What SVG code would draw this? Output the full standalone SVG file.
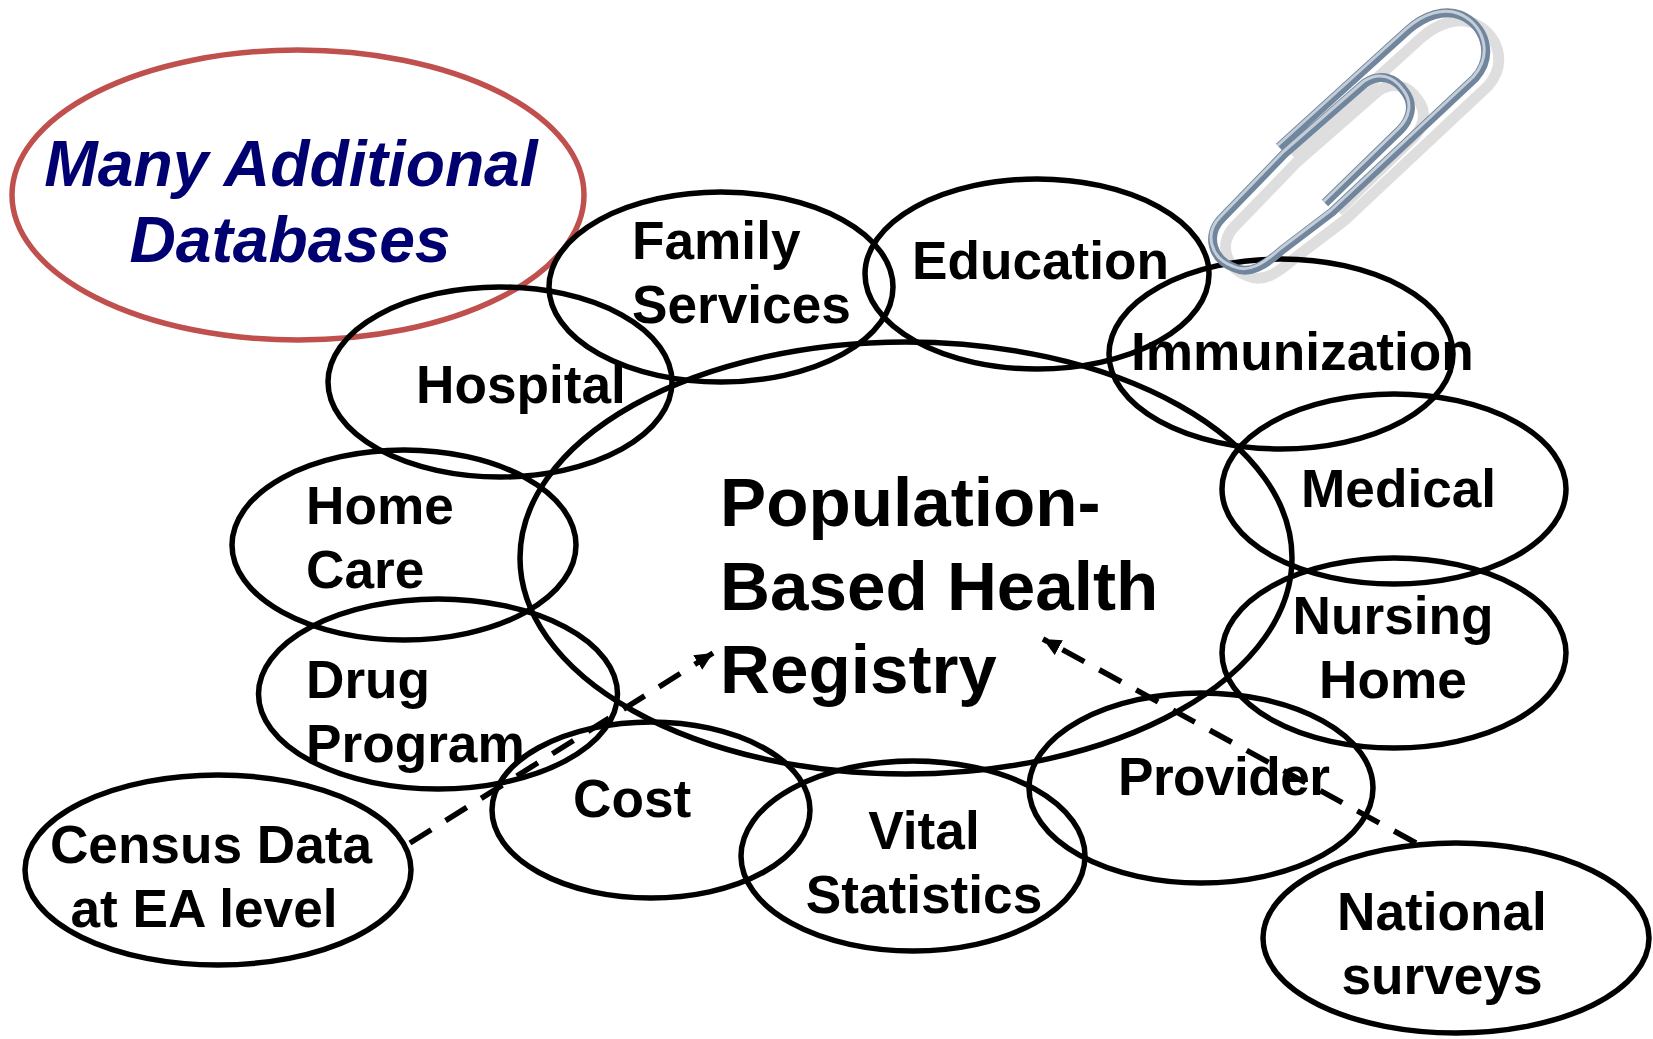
<svg xmlns="http://www.w3.org/2000/svg" width="1653" height="1039" viewBox="0 0 1653 1039">
<style>
.n{fill:none;stroke:#000;stroke-width:5.500}
text{font-family:"Liberation Sans",Arial,sans-serif;font-weight:700;fill:#000;font-size:53.200px}
.b{font-size:69.200px}
.m{font-size:64.200px;font-style:italic;fill:#000070}
.d{fill:none;stroke:#000;stroke-width:5.500;stroke-dasharray:25 17}
.w{fill:none;stroke-linecap:butt;stroke-linejoin:round}
</style>
<defs>
<marker id="a" markerUnits="userSpaceOnUse" markerWidth="20" markerHeight="18" refX="18" refY="8.500" orient="auto"><path d="M0 0L18 8.500L0 17z" fill="#000"/></marker>
<path id="clipwire" d="M1279 147L1408 30C1425 15 1445 9 1460 15C1485 25 1495 55 1475 78L1332 212L1282 250C1265 265 1250 275 1235 268C1212 260 1205 235 1222 218L1285 153L1365 83C1380 73 1395 77 1405 92C1415 105 1410 120 1400 130L1325 203"/>
</defs>
<rect width="1653" height="1039" fill="#fff"/>
<g id="connectors">
<path class="d" d="M410 843L713 653" marker-end="url(#a)"/>
<path class="d" d="M1416 843L1043 639" marker-end="url(#a)"/>
</g>
<g id="registry"><ellipse class="n" cx="906" cy="558" rx="386" ry="216"/><text x="720" y="526" class="b">Population-</text><text x="720" y="610" class="b">Based Health</text><text x="720" y="693" class="b">Registry</text></g>
<g id="many"><ellipse cx="298" cy="195" rx="286" ry="145" fill="none" stroke="#c0504d" stroke-width="5.500"/><text x="291" y="186" text-anchor="middle" class="m">Many Additional</text><text x="290" y="262" text-anchor="middle" class="m">Databases</text></g>
<g id="family"><ellipse class="n" cx="721" cy="287" rx="172" ry="95"/><text x="632" y="259">Family</text><text x="632" y="323">Services</text></g>
<g id="education"><ellipse class="n" cx="1037" cy="274" rx="172" ry="95"/><text x="912" y="279">Education</text></g>
<g id="immunization"><ellipse class="n" cx="1281" cy="354" rx="172" ry="95"/><text x="1131" y="370">Immunization</text></g>
<g id="hospital"><ellipse class="n" cx="500" cy="382" rx="172" ry="95"/><text x="416" y="403">Hospital</text></g>
<g id="medical"><ellipse class="n" cx="1394" cy="489" rx="172" ry="95"/><text x="1301" y="507">Medical</text></g>
<g id="homecare"><ellipse class="n" cx="404" cy="545" rx="172" ry="95"/><text x="306" y="524">Home</text><text x="306" y="588">Care</text></g>
<g id="nursing"><ellipse class="n" cx="1394" cy="653" rx="172" ry="95"/><text x="1393" y="634" text-anchor="middle">Nursing</text><text x="1393" y="698" text-anchor="middle">Home</text></g>
<g id="drug"><ellipse class="n" cx="438" cy="694" rx="179.500" ry="95"/><text x="306" y="698">Drug</text><text x="306" y="762">Program</text></g>
<g id="cost"><ellipse class="n" cx="651" cy="810" rx="159" ry="88"/><text x="573" y="817">Cost</text></g>
<g id="vital"><ellipse class="n" cx="913" cy="856" rx="172" ry="95"/><text x="924" y="849" text-anchor="middle">Vital</text><text x="924" y="913" text-anchor="middle">Statistics</text></g>
<g id="provider"><ellipse class="n" cx="1201" cy="788" rx="172" ry="95"/><text x="1118" y="795" textLength="212" lengthAdjust="spacing">Provider</text></g>
<g id="census"><ellipse class="n" cx="218" cy="870" rx="193" ry="95"/><text x="211" y="863" text-anchor="middle">Census Data</text><text x="204" y="927" text-anchor="middle">at EA level</text></g>
<g id="national"><ellipse class="n" cx="1456" cy="938" rx="193" ry="95"/><text x="1442" y="930" text-anchor="middle">National</text><text x="1442" y="994" text-anchor="middle">surveys</text></g>
<g id="clip">
<use href="#clipwire" class="w" stroke="#000" stroke-opacity=".13" stroke-width="11" transform="translate(13,8)"/>
<use href="#clipwire" class="w" stroke="#71869d" stroke-width="9"/>
<use href="#clipwire" class="w" stroke="#c3ced9" stroke-width="3" transform="translate(-1.500,-1.500)"/>
</g>
</svg>
